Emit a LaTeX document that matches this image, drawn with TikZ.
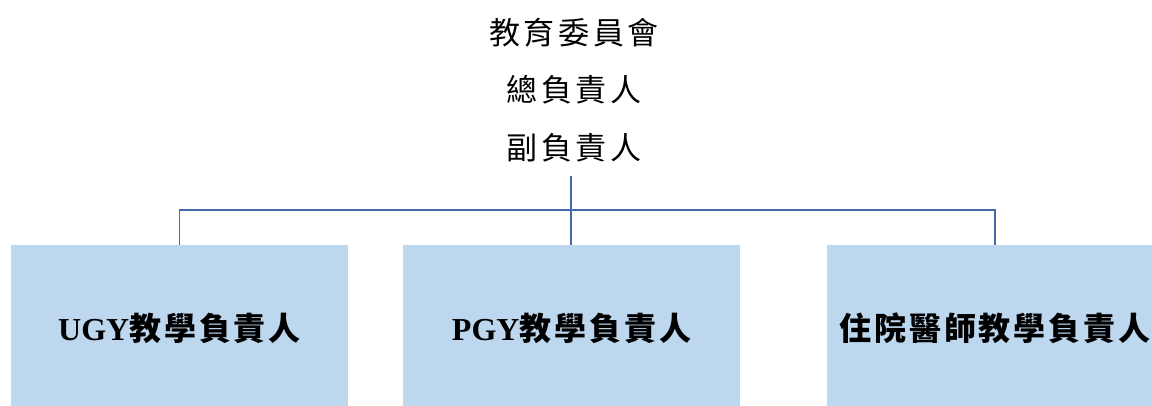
\documentclass[tikz,border=0pt]{standalone}
\usepackage{fontspec}
\setmainfont{Liberation Serif}
\newfontfamily\cjk[LetterSpace=12]{Noto Sans CJK TC}
\newfontfamily\cjkb[LetterSpace=9]{Noto Sans CJK TC}
\definecolor{boxfill}{RGB}{189,215,238}
\definecolor{connblue}{RGB}{68,104,170}
\begin{document}
\begin{tikzpicture}[x=1pt,y=-1pt,
  toptext/.style={inner sep=0pt, font=\cjk\fontsize{31pt}{36pt}\selectfont},
  rolebox/.style={fill=boxfill, draw=none, minimum width=337pt, minimum height=166pt, inner sep=0pt,
    font=\bfseries\fontsize{32pt}{38pt}\selectfont},
  conn/.style={draw=connblue, line width=1.3pt}]
\useasboundingbox (0,0) rectangle (1152,405);
\clip (0,0) rectangle (1152,405);
\node[toptext] (t1) at (574,33) {教育委員會};
\node[toptext] (t2) at (574,90) {總負責人};
\node[toptext, minimum height=56pt] (t3) at (574,148) {副負責人};
\coordinate (j) at (571,210);
\node[rolebox] (b1) at (179.5,328) {UGY{\cjkb\bfseries 教學負責人}};
\node[rolebox] (b2) at (571.5,328) {PGY{\cjkb\bfseries 教學負責人}};
\node[rolebox] (b3) at (995,328) {{\cjkb\bfseries 住院醫師教學負責人}};
\draw[conn] (t3.south -| j) -- (j) -- (b2.north -| j);
\draw[conn] (b1.north) |- (j) -| (b3.north);
\end{tikzpicture}
\end{document}
